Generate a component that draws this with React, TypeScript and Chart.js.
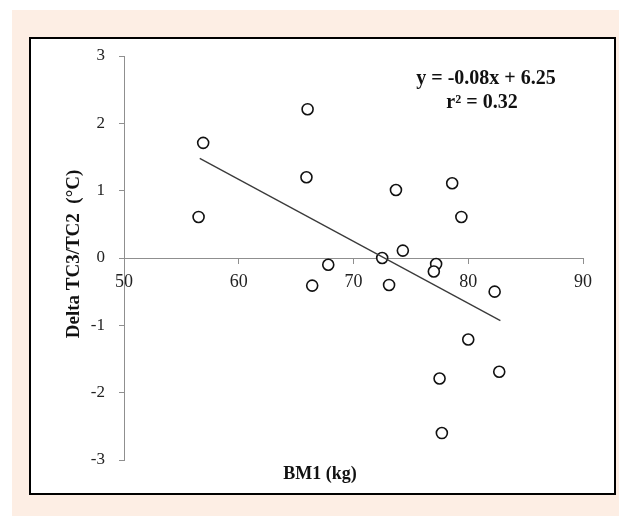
import { useEffect, useRef } from "react";
import { Chart, registerables } from "chart.js";

Chart.register(...registerables);

// ---- data ----
const bm1 = [56.9, 66.0, 65.9, 56.5, 73.7, 67.8, 66.4, 72.5, 74.3, 73.1, 77.2, 77.0, 78.6, 79.4, 82.3, 80.0, 77.5, 82.7, 77.7];
const deltaTC = [1.71, 2.21, 1.2, 0.61, 1.01, -0.1, -0.41, 0.0, 0.11, -0.4, -0.09, -0.2, 1.11, 0.61, -0.5, -1.21, -1.79, -1.69, -2.6];
const trendX = [56.6, 82.8];
const trendY = [1.48, -0.93];
const xTicks = [50, 60, 70, 80, 90];
const yTicks = [-3, -2, -1, 0, 1, 2, 3];
const equationLines = ["y = -0.08x + 6.25", "r\u00b2 = 0.32"];
const xTitle = "BM1 (kg)";
const yTitle = "Delta TC3/TC2  (\u00b0C)";

const FONT = "'Liberation Serif', 'Times New Roman', serif";

const textPlugin = {
  id: "textPlugin",
  afterDraw(chart: any) {
    const ctx = chart.ctx;
    ctx.save();
    ctx.fillStyle = "#111";
    ctx.textAlign = "center";
    ctx.textBaseline = "middle";
    ctx.font = `bold 20px ${FONT}`;
    ctx.fillText(equationLines[0], 486, 79);
    ctx.fillText(equationLines[1], 482, 103);
    ctx.font = `bold 18px ${FONT}`;
    ctx.fillText(xTitle, 320, 474);
    ctx.font = `bold 19px ${FONT}`;
    ctx.translate(74, 254);
    ctx.rotate(-Math.PI / 2);
    ctx.fillText(yTitle, 0, 0);
    ctx.restore();
  },
};

export default function App() {
  const ref = useRef<HTMLCanvasElement | null>(null);

  useEffect(() => {
    if (!ref.current) return;
    const axisColor = "#8f8f8f";
    const chart = new Chart(ref.current, {
      type: "scatter",
      data: {
        datasets: [
          {
            type: "line",
            data: trendX.map((x, i) => ({ x, y: trendY[i] })),
            borderColor: "#3a3a3a",
            borderWidth: 1.3,
            pointRadius: 0,
            fill: false,
          } as any,
          {
            data: bm1.map((x, i) => ({ x, y: deltaTC[i] })),
            pointStyle: "circle",
            pointRadius: 5.5,
            pointBackgroundColor: "#ffffff",
            pointBorderColor: "#111111",
            pointBorderWidth: 1.6,
          },
        ],
      },
      options: {
        animation: false,
        responsive: false,
        devicePixelRatio: 1,
        layout: { padding: { left: 84, right: 36, top: 56, bottom: 56 } },
        plugins: { legend: { display: false }, tooltip: { enabled: false } },
        scales: {
          x: {
            type: "linear",
            position: { y: 0 } as any,
            min: 50,
            max: 90,
            afterFit: (s: any) => {
              s.height = 0;
            },
            afterBuildTicks: (s: any) => {
              s.ticks = xTicks.map((v) => ({ value: v }));
            },
            ticks: { color: "#222", font: { family: FONT, size: 18 }, padding: 8, maxRotation: 0, autoSkip: false },
            grid: { drawOnChartArea: false, drawTicks: true, tickLength: 5, color: axisColor },
            border: { color: axisColor, width: 1 },
          },
          y: {
            type: "linear",
            position: "left",
            min: -3,
            max: 3,
            afterFit: (s: any) => {
              s.width = 40;
            },
            afterBuildTicks: (s: any) => {
              s.ticks = yTicks.map((v) => ({ value: v }));
            },
            ticks: { color: "#222", font: { family: FONT, size: 17 }, padding: 14, autoSkip: false },
            grid: { drawOnChartArea: false, drawTicks: true, tickLength: 5, color: axisColor },
            border: { color: axisColor, width: 1 },
          },
        },
      },
      plugins: [textPlugin],
    });
    return () => chart.destroy();
  }, []);

  return (
    <div style={{ position: "fixed", left: 0, top: 0, width: 619, height: 516, background: "#ffffff", overflow: "hidden" }}>
      <div style={{ position: "absolute", left: 12, top: 10, width: 607, height: 506, background: "#fdeee4" }} />
      <div
        style={{
          position: "absolute",
          left: 29,
          top: 37,
          width: 587,
          height: 458,
          boxSizing: "border-box",
          border: "2px solid #000",
          background: "#ffffff",
        }}
      />
      <canvas ref={ref} width={619} height={516} style={{ position: "absolute", left: 0, top: 0, width: 619, height: 516 }} />
    </div>
  );
}
